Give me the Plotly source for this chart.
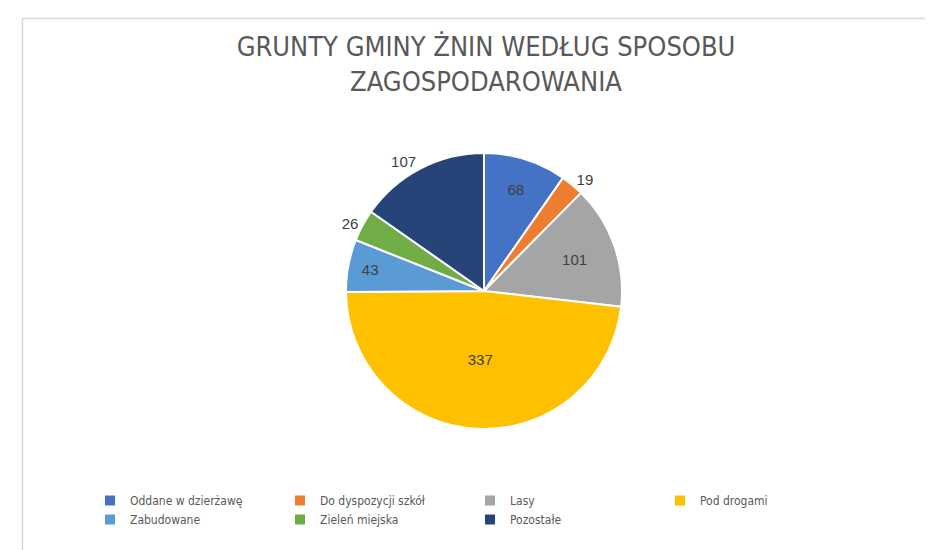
import plotly.graph_objects as go

# land use categories and values (ha)
categories = ['Oddane w dzierżawę', 'Do dyspozycji szkół', 'Lasy', 'Pod drogami',
              'Zabudowane', 'Zieleń miejska', 'Pozostałe']
values = [68, 19, 101, 337, 43, 26, 107]
colors = ['#4472C4', '#ED7D31', '#A5A5A5', '#FFC000', '#5B9BD5', '#70AD47', '#264478']
label_pos = ['inside', 'outside', 'inside', 'inside', 'inside', 'outside', 'outside']

W, H = 933, 550
font_name = 'DejaVu Sans Condensed, Liberation Sans, sans-serif'

fig = go.Figure(go.Pie(
    labels=categories,
    values=values,
    sort=False,
    direction='clockwise',
    rotation=0,
    marker=dict(colors=colors, line=dict(color='white', width=2)),
    textinfo='value',
    textposition=label_pos,
    insidetextorientation='horizontal',
    textfont=dict(size=15, color='#404040', family='Liberation Sans, sans-serif'),
    domain=dict(x=[338 / W, 614 / W], y=[1 - 421 / H, 1 - 145 / H]),
    hoverinfo='label+value+percent',
))

fig.update_layout(
    width=W, height=H,
    margin=dict(l=0, r=0, t=0, b=0),
    paper_bgcolor='white',
    title=dict(
        text='GRUNTY GMINY ŻNIN WEDŁUG SPOSOBU<br>ZAGOSPODAROWANIA',
        x=478 / W, xanchor='center',
        y=1 - 48 / H, yanchor='middle',
        font=dict(size=27, color='#595959', family=font_name),
    ),
    legend=dict(
        orientation='h',
        x=82 / W, xanchor='left',
        y=1 - 478 / H, yanchor='top',
        entrywidth=145, entrywidthmode='pixels',
        font=dict(size=12, color='#595959', family=font_name),
    ),
    shapes=[dict(
        type='rect', xref='paper', yref='paper',
        x0=14.5 / W, x1=1.01, y0=-0.01, y1=1 - 10.5 / H,
        line=dict(color='#D9D9D9', width=1.5),
    )],
)

fig.write_html('out.html')
